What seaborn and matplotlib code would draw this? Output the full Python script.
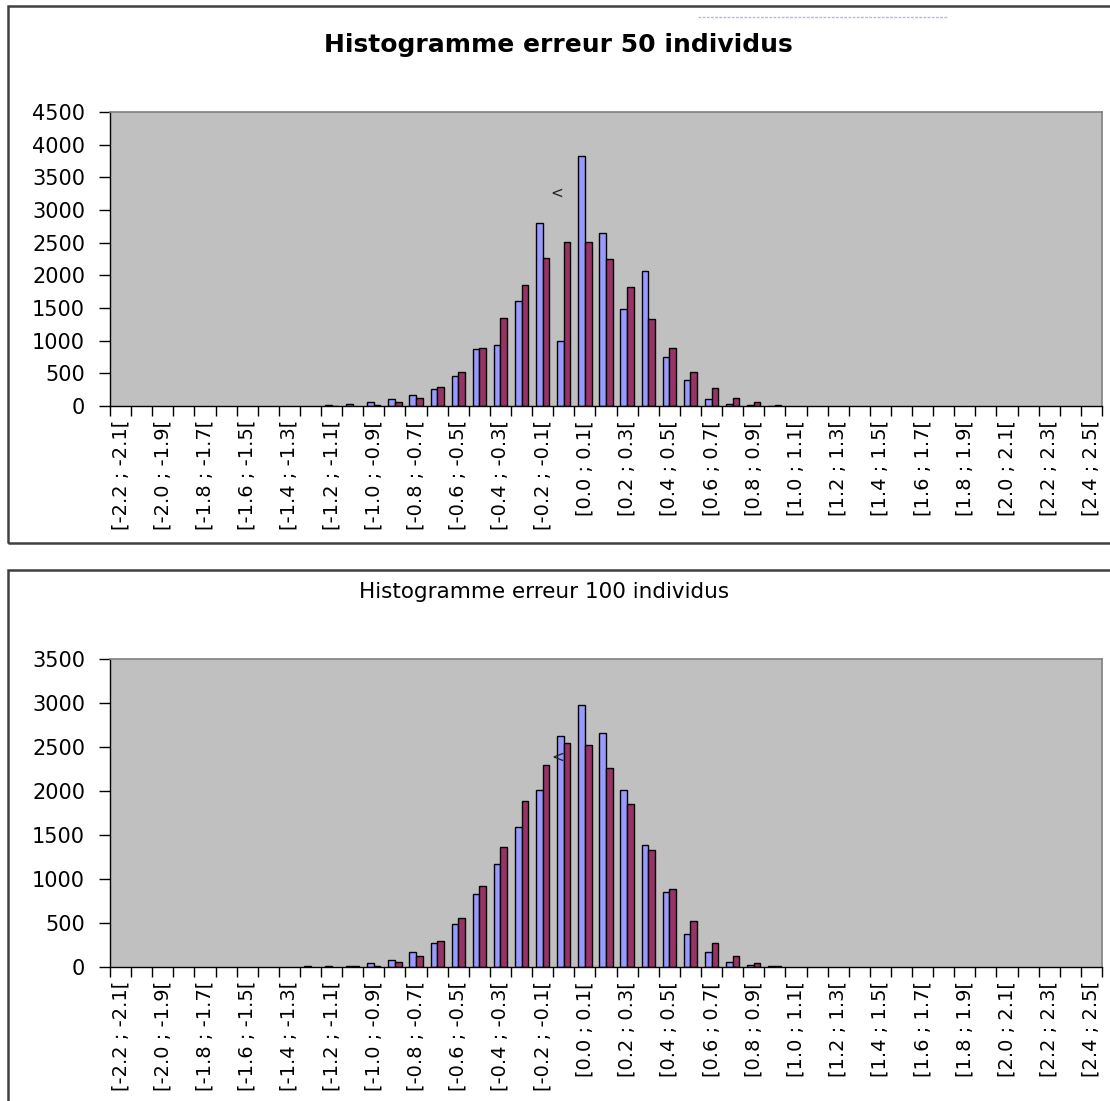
import numpy as np
import pandas as pd
import seaborn as sns
import matplotlib.pyplot as plt
from matplotlib.patches import Rectangle
from matplotlib.lines import Line2D

sns.set_theme(style="white")
plt.rcParams['font.family'] = ['DejaVu Sans']
plt.rcParams['text.color'] = 'black'
plt.rcParams['xtick.color'] = 'black'
plt.rcParams['ytick.color'] = 'black'

# bins of the error histogram: [-2.2 ; -2.1[ ... [2.4 ; 2.5[
lows = np.round(np.arange(-2.2, 2.45, 0.1), 1)
bins = [f"[{lo:.1f} ; {lo + 0.1:.1f}[" for lo in lows]

# counts (47 bins, zeros outside the visible bars)
z10 = [0] * 10
z15 = [0] * 15
blue_50 = z10 + [15, 35, 61, 102, 168, 260, 459, 867, 928, 1602, 2806, 995,
                 3821, 2648, 1490, 2066, 750, 393, 102, 36, 15, 5] + z15
red_50 = z10 + [5, 0, 20, 56, 128, 285, 525, 882, 1352, 1851, 2270, 2515,
                2515, 2245, 1821, 1332, 883, 525, 281, 128, 61, 10] + z15
blue_100 = [0] * 9 + [15, 15, 15, 45, 80, 174, 277, 492, 826, 1170, 1587, 2015,
                      2628, 2981, 2663, 2015, 1386, 856, 375, 174, 57, 27, 10] + z15
red_100 = z10 + [0, 15, 15, 61, 129, 292, 561, 924, 1367, 1882, 2295, 2545,
                 2526, 2265, 1852, 1333, 886, 523, 277, 129, 42, 10] + z15

colors = ["#9999FF", "#993366"]

W, H = 1110, 1101
fig = plt.figure(figsize=(W / 100, H / 100), dpi=100)


def fx(px):
    return px / W


def fy(py):
    return 1 - py / H


def panel(rect, blue, red, ymax, title, bold, title_xy, title_size, mark_pos):
    ax = fig.add_axes(rect)
    df = pd.DataFrame({"bin": bins * 2,
                       "count": blue + red,
                       "serie": ["a"] * len(bins) + ["b"] * len(bins)})
    # empty bins are not drawn at all in the original
    df["count"] = df["count"].replace(0, np.nan)
    sns.barplot(data=df, x="bin", y="count", hue="serie", order=bins,
                palette=colors, width=0.63, edgecolor="black", linewidth=1,
                saturation=1, legend=False, errorbar=None, ax=ax)
    ax.set_facecolor("#C0C0C0")
    ax.set_xlim(-0.5, len(bins) - 0.5)
    ax.set_ylim(0, ymax)
    ax.set_yticks(np.arange(0, ymax + 1, 500))
    ax.set_yticklabels([str(v) for v in range(0, ymax + 1, 500)], fontsize=15)
    ax.set_xticks(range(0, len(bins), 2))
    ax.set_xticklabels(bins[::2], rotation=90, fontsize=14)
    ax.set_xticks(np.arange(-0.5, len(bins), 1), minor=True)
    ax.tick_params(axis="x", which="major", length=0, pad=10)
    ax.tick_params(axis="x", which="minor", length=7, width=1, color="black",
                   direction="out", bottom=True)
    ax.tick_params(axis="y", length=8, width=1, color="black", direction="out",
                   left=True, pad=10)
    ax.set_xlabel("")
    ax.set_ylabel("")
    for s in ["top", "right"]:
        ax.spines[s].set_color("#808080")
        ax.spines[s].set_linewidth(1.2)
    for s in ["left", "bottom"]:
        ax.spines[s].set_color("black")
        ax.spines[s].set_linewidth(1)
    ax.text(mark_pos[0], mark_pos[1], "<", transform=ax.transAxes,
            fontsize=11, color="#222222", ha="center", va="center")
    fig.text(title_xy[0], title_xy[1], title, ha="center", va="center",
             fontsize=title_size, fontweight="bold" if bold else "normal")
    return ax


panel([fx(110), fy(406), fx(992), 294 / H], blue_50, red_50, 4500,
      "Histogramme erreur 50 individus", True, (fx(558), fy(45)), 18,
      (0.4506, 0.7245))
panel([fx(110), fy(967), fx(992), 308 / H], blue_100, red_100, 3500,
      "Histogramme erreur 100 individus", False, (fx(544), fy(592)), 15.5,
      (0.4516, 0.682))

# chart frames as in the spreadsheet export
fig.patches.append(Rectangle((fx(8), fy(543)), 1.0, fy(6) - fy(543),
                             transform=fig.transFigure, fill=False,
                             edgecolor="#404040", linewidth=1.8))
fig.patches.append(Rectangle((fx(8), fy(1110)), 1.0, fy(570) - fy(1110),
                             transform=fig.transFigure, fill=False,
                             edgecolor="#404040", linewidth=1.8))
# faint dotted stroke left at the top of the first chart
fig.lines.append(Line2D([fx(698), fx(948)], [fy(17), fy(17)],
                        transform=fig.transFigure, color="#B8B8D8",
                        linewidth=1, linestyle=(0, (2, 1))))

plt.savefig("out.png", dpi=100)
